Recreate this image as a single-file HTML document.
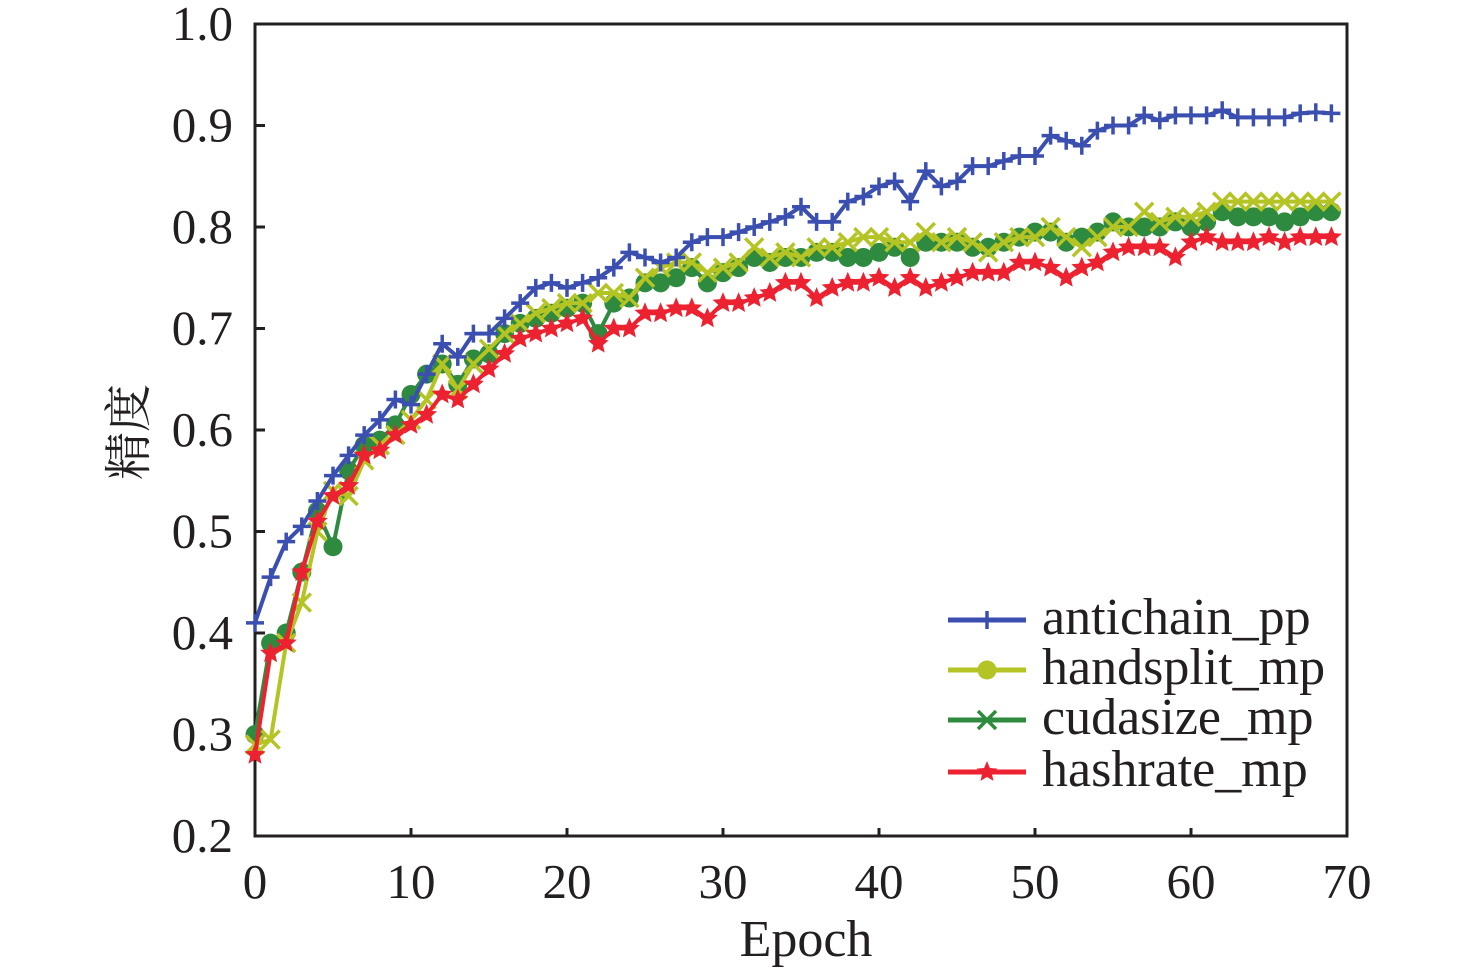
<!DOCTYPE html>
<html><head><meta charset="utf-8"><style>
html,body{margin:0;padding:0;background:#fff}
svg text{font-family:"Liberation Serif","Noto Serif CJK SC",serif;fill:#231f20}
</style></head><body>
<svg id="chart" width="1476" height="972" viewBox="0 0 1476 972" xmlns="http://www.w3.org/2000/svg">
<g id="axes"></g>
<g id="series"></g>
<g id="legend"></g>
</svg>
<script>
const epochs = Array.from({length:70},(_,i)=>i);
const xTicks = [0,10,20,30,40,50,60,70];
const yTicks = [0.2,0.3,0.4,0.5,0.6,0.7,0.8,0.9,1.0];
const antichain = [0.41,0.455,0.49,0.505,0.53,0.555,0.575,0.595,0.61,0.63,0.625,0.655,0.685,0.672,0.695,0.695,0.71,0.725,0.74,0.745,0.74,0.745,0.75,0.76,0.775,0.77,0.765,0.77,0.785,0.79,0.79,0.795,0.8,0.805,0.81,0.82,0.805,0.805,0.825,0.83,0.84,0.845,0.825,0.855,0.84,0.845,0.86,0.86,0.865,0.87,0.87,0.89,0.885,0.88,0.895,0.9,0.9,0.91,0.905,0.91,0.91,0.91,0.915,0.908,0.908,0.908,0.908,0.912,0.913,0.912];
const handsplit = [0.30,0.39,0.40,0.46,0.52,0.485,0.56,0.585,0.59,0.605,0.635,0.655,0.665,0.645,0.67,0.675,0.695,0.705,0.71,0.715,0.72,0.725,0.695,0.725,0.73,0.745,0.745,0.75,0.76,0.745,0.755,0.76,0.77,0.765,0.77,0.77,0.775,0.775,0.77,0.77,0.775,0.78,0.77,0.785,0.785,0.785,0.78,0.78,0.785,0.79,0.795,0.795,0.785,0.79,0.795,0.805,0.8,0.8,0.8,0.805,0.8,0.805,0.815,0.81,0.81,0.81,0.805,0.81,0.815,0.815];
const cudasize = [0.29,0.295,0.39,0.43,0.50,0.54,0.535,0.57,0.585,0.595,0.61,0.63,0.665,0.64,0.665,0.68,0.695,0.705,0.715,0.72,0.725,0.725,0.735,0.735,0.73,0.75,0.76,0.765,0.765,0.755,0.76,0.765,0.78,0.77,0.775,0.77,0.78,0.78,0.785,0.79,0.79,0.785,0.785,0.795,0.785,0.79,0.785,0.775,0.785,0.79,0.79,0.8,0.79,0.78,0.79,0.8,0.8,0.815,0.805,0.81,0.81,0.815,0.825,0.825,0.825,0.825,0.825,0.825,0.825,0.825];
const hashrate = [0.28,0.38,0.39,0.46,0.51,0.535,0.545,0.575,0.58,0.595,0.605,0.615,0.635,0.63,0.645,0.66,0.675,0.69,0.695,0.70,0.705,0.71,0.685,0.70,0.70,0.715,0.715,0.72,0.72,0.71,0.725,0.725,0.73,0.735,0.745,0.745,0.73,0.74,0.745,0.745,0.75,0.74,0.75,0.74,0.745,0.75,0.755,0.755,0.755,0.765,0.765,0.76,0.75,0.76,0.765,0.775,0.78,0.78,0.78,0.77,0.785,0.79,0.785,0.785,0.785,0.79,0.785,0.79,0.79,0.79];

const NS="http://www.w3.org/2000/svg";
const X0=255,X1=1347,Y0=836,Y1=24;
const xs=v=>X0+(v/70)*(X1-X0);
const ys=v=>Y0-(v-0.2)/0.8*(Y0-Y1);
function mk(tag,attrs,parent){const e=document.createElementNS(NS,tag);for(const k in attrs)e.setAttribute(k,attrs[k]);parent.appendChild(e);return e;}
const axes=document.getElementById('axes');
const frame=mk('rect',{x:X0,y:Y1,width:X1-X0,height:Y0-Y1,fill:'none',stroke:'#231f20','stroke-width':3},axes);


xTicks.forEach(t=>{
  const l=mk('line',{x1:xs(t),x2:xs(t),y1:Y0,y2:Y0-8,stroke:'#231f20','stroke-width':3},axes);
  
  
  const tx=mk('text',{x:xs(t),y:898,'text-anchor':'middle','font-size':49},axes);
  tx.textContent=String(t);
  
  
});
yTicks.forEach(t=>{
  const l=mk('line',{x1:X0,x2:X0+10,y1:ys(t),y2:ys(t),stroke:'#231f20','stroke-width':3},axes);
  
  
  const tx=mk('text',{x:233,y:ys(t)+16,'text-anchor':'end','font-size':49},axes);
  tx.textContent=t.toFixed(1);
  
  
});
const xt=mk('text',{x:806,y:956,'text-anchor':'middle','font-size':52},axes);
xt.textContent='Epoch';


const yt=mk('text',{x:0,y:0,'text-anchor':'middle','font-size':48,transform:'translate(145,432) rotate(-90)'},axes);
yt.textContent='精度';



function marker(type,cx,cy,color,g){
  const s=9;
  if(type==='plus'){
    mk('path',{d:`M${cx-s} ${cy}H${cx+s}M${cx} ${cy-s}V${cy+s}`,stroke:color,'stroke-width':3.5,fill:'none'},g);
  }else if(type==='circle'){
    mk('circle',{cx,cy,r:9.5,fill:color},g);
  }else if(type==='x'){
    mk('path',{d:`M${cx-s} ${cy-s}L${cx+s} ${cy+s}M${cx-s} ${cy+s}L${cx+s} ${cy-s}`,stroke:color,'stroke-width':3.5,fill:'none'},g);
  }else{
    let p='';for(let i=0;i<10;i++){const r=i%2?5:11;const a=-Math.PI/2+i*Math.PI/5;p+=(i?'L':'M')+(cx+r*Math.cos(a)).toFixed(1)+' '+(cy+r*Math.sin(a)).toFixed(1);}
    mk('path',{d:p+'Z',fill:color},g);
  }
}
const seriesDefs=[
  {name:'handsplit',data:handsplit,color:'#2e8a3e',m:'circle'},
  {name:'cudasize',data:cudasize,color:'#b4c424',m:'x'},
  {name:'antichain',data:antichain,color:'#3a4fb0',m:'plus'},
  {name:'hashrate',data:hashrate,color:'#ec2230',m:'star'}
];
const sg=document.getElementById('series');
seriesDefs.forEach(sd=>{
  const g=mk('g',{},sg);
  
  
  const pts=sd.data.map((v,i)=>xs(epochs[i]).toFixed(1)+','+ys(v).toFixed(1)).join(' ');
  mk('polyline',{points:pts,fill:'none',stroke:sd.color,'stroke-width':4,'stroke-linejoin':'round'},g);
  sd.data.forEach((v,i)=>marker(sd.m,xs(epochs[i]),ys(v),sd.color,g));
});
const lg=document.getElementById('legend');
const legendItems=[
  {label:'antichain_pp',color:'#3a4fb0',m:'plus',y:620},
  {label:'handsplit_mp',color:'#b4c424',m:'circle',y:670},
  {label:'cudasize_mp',color:'#2e8a3e',m:'x',y:720},
  {label:'hashrate_mp',color:'#ec2230',m:'star',y:772}
];
legendItems.forEach(it=>{
  const g=mk('g',{},lg);
  
  
  mk('line',{x1:948,x2:1026,y1:it.y,y2:it.y,stroke:it.color,'stroke-width':5},g);
  marker(it.m,987,it.y,it.color,g);
  const t=mk('text',{x:1042,y:it.y+14,'font-size':52},g);
  t.textContent=it.label;
});
</script>
</body></html>
